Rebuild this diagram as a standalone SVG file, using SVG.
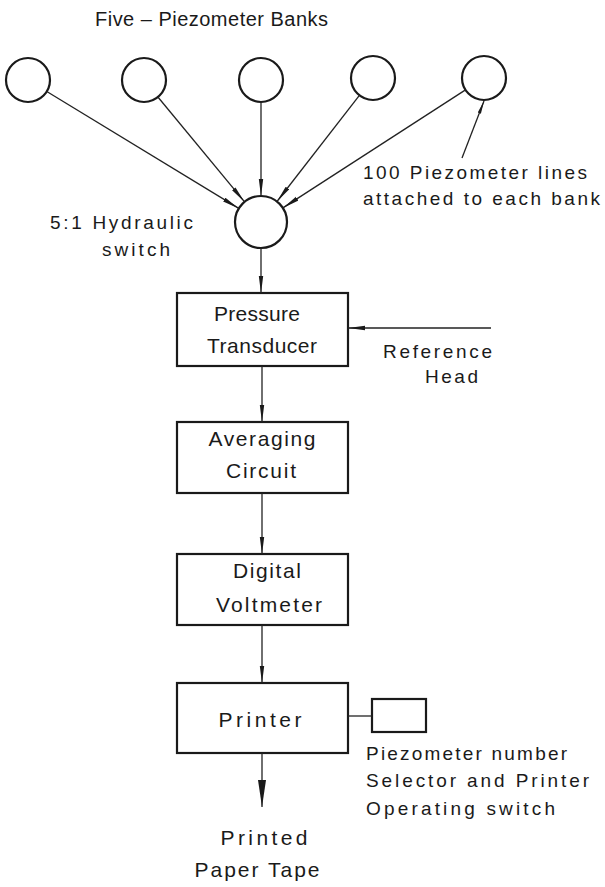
<svg xmlns="http://www.w3.org/2000/svg" width="605" height="887" viewBox="0 0 605 887">
<style>
.n{fill:none;stroke:#1a1a1a;stroke-width:2.2}
.c{fill:none;stroke:#222;stroke-width:1.3}
text{font-family:"Liberation Sans",Arial,sans-serif;fill:#1a1a1a}
.b{font-size:21px;text-anchor:middle}
.a{font-size:19px}
</style>
<defs>
<marker id="ah" markerUnits="userSpaceOnUse" markerWidth="18" markerHeight="7" refX="17" refY="3" orient="auto">
<path d="M0,0.8 L17,3 L0,5.2 z" fill="#1a1a1a"/>
</marker>
<marker id="ahL" markerUnits="userSpaceOnUse" markerWidth="28" markerHeight="10" refX="27" refY="4.5" orient="auto">
<path d="M0,0.5 L27,4.5 L0,8.5 z" fill="#1a1a1a"/>
</marker>
<marker id="ahS" markerUnits="userSpaceOnUse" markerWidth="14" markerHeight="6" refX="13" refY="2.5" orient="auto">
<path d="M0,0.8 L13,2.5 L0,4.2 z" fill="#1a1a1a"/>
</marker>
</defs>
<rect width="605" height="887" fill="#fff"/>
<text id="title" x="95" y="26" font-size="20" textLength="233" lengthAdjust="spacing">Five – Piezometer Banks</text>
<g id="bank1"><circle class="n" cx="28" cy="80" r="22"/></g>
<g id="bank2"><circle class="n" cx="144" cy="80" r="22"/></g>
<g id="bank3"><circle class="n" cx="261" cy="80" r="22"/></g>
<g id="bank4"><circle class="n" cx="373" cy="78" r="22"/></g>
<g id="bank5"><circle class="n" cx="484" cy="78" r="22"/></g>
<g id="switch"><circle class="n" cx="261" cy="222" r="26"/>
<text class="a" x="50" y="229" textLength="143" lengthAdjust="spacing">5:1 Hydraulic</text>
<text class="a" x="102" y="256" textLength="68" lengthAdjust="spacing">switch</text></g>
<g id="transducer"><rect class="n" x="177" y="293" width="171" height="73"/>
<text class="b" x="257" y="321" textLength="86" lengthAdjust="spacing">Pressure</text>
<text class="b" x="262" y="353" textLength="110" lengthAdjust="spacing">Transducer</text></g>
<g id="averaging"><rect class="n" x="177" y="422" width="171" height="71"/>
<text class="b" x="262" y="446" textLength="107" lengthAdjust="spacing">Averaging</text>
<text class="b" x="261" y="478" textLength="70" lengthAdjust="spacing">Circuit</text></g>
<g id="voltmeter"><rect class="n" x="177" y="554" width="171" height="71"/>
<text class="b" x="267" y="578" textLength="68" lengthAdjust="spacing">Digital</text>
<text class="b" x="269" y="612" textLength="106" lengthAdjust="spacing">Voltmeter</text></g>
<g id="printer"><rect class="n" x="177" y="683" width="171" height="70"/>
<text class="b" x="260" y="727" textLength="83" lengthAdjust="spacing">Printer</text></g>
<g id="selector"><rect class="n" x="372" y="699" width="54" height="33"/>
<text class="a" x="366" y="760" textLength="201" lengthAdjust="spacing">Piezometer number</text>
<text class="a" x="366" y="787" textLength="223" lengthAdjust="spacing">Selector and Printer</text>
<text class="a" x="366" y="815" textLength="189" lengthAdjust="spacing">Operating switch</text></g>
<g id="refhead"><text class="a" x="383" y="358" textLength="109" lengthAdjust="spacing">Reference</text>
<text class="a" x="425" y="383" textLength="53" lengthAdjust="spacing">Head</text></g>
<g id="lines-note"><text class="a" x="363" y="179" textLength="224" lengthAdjust="spacing">100 Piezometer lines</text>
<text class="a" x="363" y="205" textLength="237" lengthAdjust="spacing">attached to each bank</text></g>
<g id="tape"><text class="b" x="264" y="845" textLength="87" lengthAdjust="spacing">Printed</text>
<text class="b" x="257" y="877" textLength="125" lengthAdjust="spacing">Paper Tape</text></g>
<g id="connectors">
<line class="c" x1="46.8" y1="91.5" x2="238.8" y2="208.4" marker-end="url(#ah)"/>
<line class="c" x1="157.9" y1="97" x2="244.6" y2="201.9" marker-end="url(#ah)"/>
<line class="c" x1="261" y1="102" x2="261" y2="196" marker-end="url(#ah)"/>
<line class="c" x1="359.4" y1="95.3" x2="277" y2="201.5" marker-end="url(#ah)"/>
<line class="c" x1="465.5" y1="89.9" x2="282.9" y2="207.9" marker-end="url(#ah)"/>
<line class="c" x1="462" y1="158" x2="484" y2="101" marker-end="url(#ahS)"/>
<line class="c" x1="261" y1="248" x2="261" y2="293" marker-end="url(#ah)"/>
<line class="c" x1="491" y1="328" x2="348" y2="328" marker-end="url(#ah)"/>
<line class="c" x1="262" y1="366" x2="262" y2="422" marker-end="url(#ah)"/>
<line class="c" x1="262" y1="493" x2="262" y2="554" marker-end="url(#ah)"/>
<line class="c" x1="262" y1="625" x2="262" y2="683" marker-end="url(#ah)"/>
<line class="c" x1="348" y1="716" x2="372" y2="716"/>
<line class="c" x1="262" y1="753" x2="262" y2="807" marker-end="url(#ahL)"/>
</g>
</svg>
